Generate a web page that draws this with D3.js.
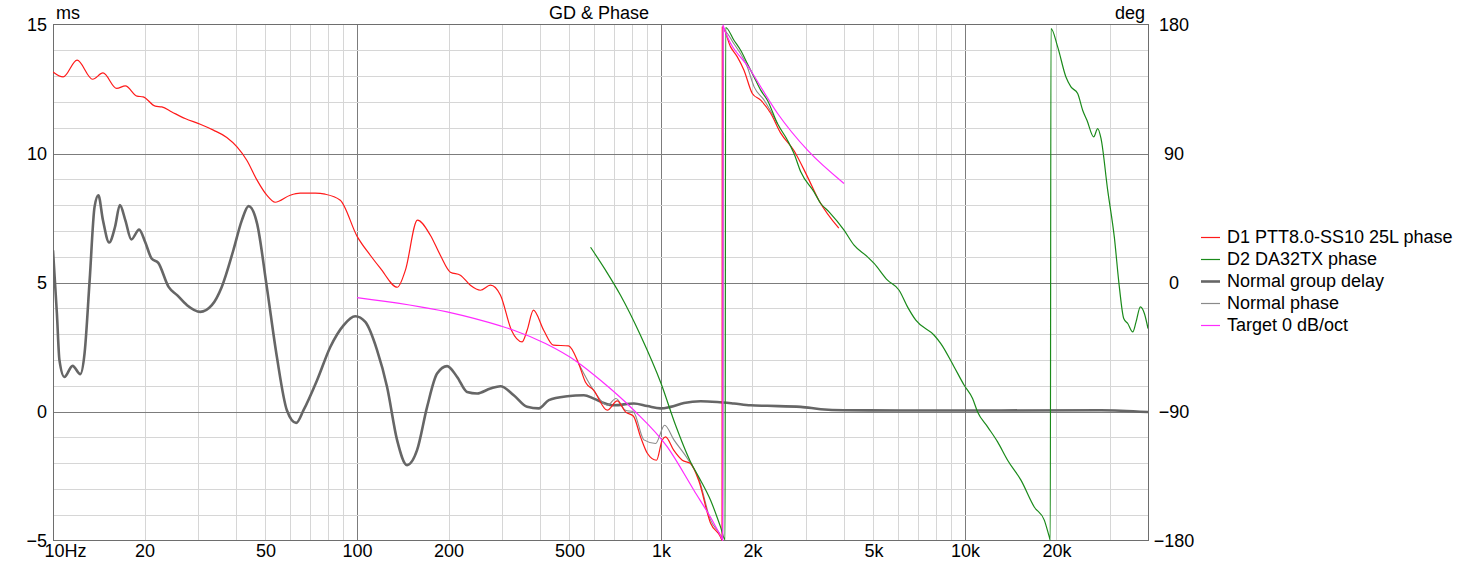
<!DOCTYPE html>
<meta charset="utf-8">
<style>
body { margin: 0; background: #fff; }
text { font-family: "Liberation Sans", Arial, sans-serif; font-size: 18px; fill: #000; }
.grid-minor { stroke: #d6d6d6; stroke-width: 1; }
.grid-major { stroke: #7c7c7c; stroke-width: 1; }
.trace { fill: none; stroke-linejoin: round; }
</style>
<svg width="1465" height="561"></svg>
<script src="https://d3js.org/d3.v7.min.js"></script>
<script>

// ---- data: [frequency Hz, value] ----
var d1Phase = [
  [10,146.9],[10.8,143.4],[12.0,155.1],[13.5,141.8],[14.6,146.2],[16.2,135.4],[17.3,137.2],
  [18.9,130.0],[19.8,129.5],[21.7,123.0],[22.8,122.5],[24.6,119.0],[27.2,114.4],[30.5,110.4],
  [33.7,106.3],[37.3,101.2],[40.3,94.6],[43.4,85.3],[46.9,71.4],[50.5,60.9],[53.8,56.0],
  [60.3,60.9],[65,62.3],[72.9,62.3],[78.6,61.6],[88.1,57.4],[100.2,32.0],[110.6,19.0],
  [119.3,10.0],[135.8,-3.3],[144.3,8.6],[158,43.5],[174.3,33.0],[188,19.0],[202.9,7.2],
  [218.8,5.1],[236,-1.9],[254.7,-5.4],[274.8,-1.9],[296.5,-8.9],[322.2,-33.3],[349.3,-41.4],
  [362.8,-33.3],[380.5,-19.3],[411.3,-33.3],[442.6,-43.7],[496.5,-44.2],[535.4,-56.3],
  [564.5,-69.6],[600,-75.1],[665.6,-89.1],[718,-82.6],[764.2,-90.3],[812,-93.3],[856.5,-107.7],
  [901.6,-119.1],[966.6,-124.0],[1009,-110.0],[1035,-107.7],[1101,-117.0],[1175,-124.0],
  [1251,-126.3],[1330,-138.0],[1456,-167.9],[1570,-177.5],[1588,-179.8],
  [1591,178.3],[1694,164.4],[1783,157.4],[1875,148.1],[1997,131.9],[2128,127.2],[2295,118.1],
  [2477,104.2],[2734,92.3],[3034,73.7],[3305,57.4],[3846,37.9]
];

var d2Phase = [
  [586.6,24.6],[657,8.6],[736,-8.9],[856,-36.8],[1000,-70.3],[1117,-99.6],[1251,-125.2],
  [1349,-137.9],[1456,-151.9],[1570,-170.5],[1625,-179.5],
  [1632,177.9],[1738,169],[1828,162],[1923,152.8],[2023,143.4],[2128,134.2],[2239,127.2],
  [2416,110.9],[2606,99.3],[2739,90.0],[2882,77.2],[3187,63.2],[3354,55.1],[3571,49.3],
  [4001,36.5],[4316,26.0],[4779,17.9],[5024,13.3],[5561,1.6],[6072,-5.4],[6471,-17.0],
  [6891,-26.3],[7918,-36.8],[8328,-42.6],[9214,-58.9],[9940,-71.7],[10593,-81.0],
  [11003,-90.3],[11869,-100.7],[12803,-111.2],[13812,-124],[15280,-137.9],[16900,-156.6],
  [18235,-165.8],[18938,-177.5],[19080,-179.8],
  [19184,177.2],[20179,164.4],[21484,143.4],[22316,136.5],[23476,131.9],[24384,120.2],
  [25193,113.2],[26506,101.6],[27324,107.4],[28019,100.5],[29472,64.4],[30988,31.8],
  [32193,-3.1],[33285,-25.1],[34310,-28.6],[35636,-34.5],[36540,-27.5],[37754,-17.0],
  [38921,-21.6],[40000,-32.1]
];

var groupDelay = [
  [10,6.25],[10.3,3.8],[10.5,1.99],[10.9,1.34],[11.6,1.77],[12.3,1.45],[12.7,2.25],[13.2,5.09],
  [13.7,7.93],[14.1,8.38],[14.6,7.41],[15.3,6.55],[16.0,7.16],[16.6,8.0],[17.3,7.41],[18.1,6.67],
  [19.2,7.05],[20.1,6.57],[21.1,5.93],[22.2,5.76],[24.0,4.83],[25.6,4.51],[27.6,4.12],[30.5,3.86],
  [33.3,4.12],[35.9,4.83],[39.2,6.25],[41.8,7.41],[44.0,7.96],[46.9,7.29],[50.5,4.83],[54.5,2.12],
  [58.8,0.05],[63.1,-0.44],[66.7,0.05],[73.9,1.21],[81.7,2.5],[90.3,3.34],[98.7,3.69],[106.5,3.47],
  [116.4,2.38],[125.6,0.95],[135.5,-1.11],[146.1,-2.08],[157.6,-1.5],[170.1,0.18],[183.4,1.47],
  [197.9,1.76],[213.5,1.34],[230.2,0.76],[248.4,0.7],[274.8,0.89],[296.4,0.98],[327.8,0.63],
  [362.8,0.18],[396.3,0.12],[427.6,0.44],[491.5,0.59],[557.4,0.63],[601.2,0.5],[648.6,0.33],
  [699.8,0.24],[814.3,0.31],[901.6,0.21],[997,0.12],[1075,0.18],[1190,0.33],[1350,0.4],
  [1532,0.37],[1738,0.31],[1972,0.24],[2239,0.22],[2882,0.18],[3354,0.09],[3990,0.05],
  [6150,0.04],[13120,0.04],[28019,0.05],[40000,-0.02]
];

var normalPhase = [
  [535.4,-56.3],[600,-75.1],[666,-85.6],[711,-80.9],[764,-89.1],[812,-90.3],[878.6,-109.8],
  [959.8,-112.3],[1028,-99.6],[1103,-109.8],[1221,-122.8],[1330,-136.6],[1456,-165.8],
  [1570,-176.3],[1598,-179.8],
  [1605,176.0],[1735,166.7],[1923,150.4],[2025,136.5],[2185,127.2],[2416,110.9]
];

var targetPhase = [
  [100,-10.5],[197.9,-20.5],[296.4,-30.3],[327.8,-33.3],[416.9,-42.6],[530.2,-55.4],
  [632.5,-68.2],[814.3,-89.1],[1049,-114.7],[1283,-144.9],[1494,-168.1],[1591,-179.3],
  [1596,-179.9],[1600,179.5],[1607,178.3],[1972,148.1],[2416,118.1],[3034,92.3],[4000,69.1]
];

var xTicks = [10, 20, 50, 100, 200, 500, 1000, 2000, 5000, 10000, 20000];
var xTickLabels = ["10Hz", "20", "50", "100", "200", "500", "1k", "2k", "5k", "10k", "20k"];
var msTicks = [-5, 0, 5, 10, 15];
var degTicks = [-180, -90, 0, 90, 180];

var legendNames = ["D1 PTT8.0-SS10 25L phase", "D2 DA32TX phase", "Normal group delay", "Normal phase", "Target 0 dB/oct"];
var legendColors = ["#ff1a1a", "#1a8a1a", "#666666", "#8a8a8a", "#ff2bff"];

// ---- layout ----
var svg = d3.select("svg"),
    plotL = 53, plotR = 1148, plotT = 24.5, plotB = 540.5;

var x = d3.scaleLog().domain([10, 40000]).range([plotL, plotR]);
var yMs = d3.scaleLinear().domain([-5, 15]).range([plotB, plotT]);
var yDeg = d3.scaleLinear().domain([-180, 180]).range([plotB, plotT]);

// grid
var grid = svg.append("g");
var minorF = [];
for (var dec = 10; dec <= 10000; dec *= 10) {
  for (var m = 1; m <= 9; m++) {
    var f = dec * m;
    if (f > 10 && f < 40000) minorF.push(f);
  }
}
grid.selectAll(".vline")
  .data(minorF)
  .enter().append("line")
  .attr("class", function(d) { return [100, 1000, 10000].indexOf(d) >= 0 ? "grid-major" : "grid-minor"; })
  .attr("x1", function(d) { return Math.round(x(d)) + 0.5; })
  .attr("x2", function(d) { return Math.round(x(d)) + 0.5; })
  .attr("y1", plotT).attr("y2", plotB);

grid.selectAll(".hline")
  .data(d3.range(-4, 15))
  .enter().append("line")
  .attr("class", function(d) { return d % 5 === 0 ? "grid-major" : "grid-minor"; })
  .attr("x1", plotL).attr("x2", plotR)
  .attr("y1", function(d) { return Math.round(yMs(d)) + 0.5; })
  .attr("y2", function(d) { return Math.round(yMs(d)) + 0.5; });

// frame
svg.append("rect")
  .attr("x", plotL + 0.5).attr("y", plotT)
  .attr("width", plotR - plotL).attr("height", plotB - plotT)
  .attr("fill", "none").attr("stroke", "#6e6e6e");

// clip
svg.append("clipPath").attr("id", "plot")
  .append("rect").attr("x", plotL).attr("y", plotT - 2).attr("width", plotR - plotL).attr("height", plotB - plotT + 3);

var plot = svg.append("g").attr("clip-path", "url(#plot)");

function drawLine(data, yScale, color, width) {
  var line = d3.line()
    .x(function(d) { return x(d[0]); })
    .y(function(d) { return yScale(d[1]); })
    .curve(d3.curveMonotoneX);
  plot.append("path")
    .datum(data)
    .attr("class", "trace")
    .attr("d", line)
    .attr("stroke", color)
    .attr("stroke-width", width);
}

drawLine(groupDelay, yMs, legendColors[2], 2.6);
drawLine(normalPhase, yDeg, legendColors[3], 1.1);
drawLine(d1Phase, yDeg, legendColors[0], 1.2);
drawLine(d2Phase, yDeg, legendColors[1], 1.2);
drawLine(targetPhase, yDeg, legendColors[4], 1.2);

// axes
var xAxis = svg.append("g")
  .attr("transform", "translate(0," + plotB + ")")
  .call(d3.axisBottom(x).tickValues(xTicks).tickSize(0)
    .tickFormat(function(d, i) { return xTickLabels[i]; }));
xAxis.select(".domain").remove();
xAxis.selectAll("text").attr("y", 4).attr("dy", "0.71em")
  .attr("fill", "#000")
  .style("font-size", "18px");
xAxis.selectAll(".tick").filter(function(d) { return d === 10; })
  .select("text").attr("text-anchor", "start").attr("x", -9);

var msAxis = svg.append("g")
  .attr("transform", "translate(" + (plotL - 5) + ",0)")
  .call(d3.axisLeft(yMs).tickValues(msTicks).tickSize(0).tickPadding(1));
msAxis.select(".domain").remove();
msAxis.selectAll("text").attr("fill", "#000").style("font-size", "18px");

var degAxis = svg.append("g")
  .attr("transform", "translate(1174,0)")
  .call(d3.axisRight(yDeg).tickValues(degTicks).tickSize(0).tickPadding(0));
degAxis.select(".domain").remove();
degAxis.selectAll("text").attr("text-anchor", "middle").attr("x", 0)
  .attr("fill", "#000").style("font-size", "18px");

// titles
svg.append("text").attr("x", 56).attr("y", 19).text("ms");
svg.append("text").attr("x", 1145).attr("y", 19).attr("text-anchor", "end").text("deg");
svg.append("text").attr("x", 599).attr("y", 19).attr("text-anchor", "middle").text("GD & Phase");

// legend
var legend = svg.append("g").attr("transform", "translate(1201,237)");
var rows = legend.selectAll("g")
  .data(legendNames)
  .enter().append("g")
  .attr("transform", function(d, i) { return "translate(0," + (i * 22) + ")"; });
rows.append("line")
  .attr("x1", 0).attr("x2", 19).attr("y1", 0.5).attr("y2", 0.5)
  .attr("stroke", function(d, i) { return legendColors[i]; })
  .attr("stroke-width", function(d, i) { return i === 2 ? 2.6 : 1.2; });
rows.append("text")
  .attr("x", 26).attr("y", 0).attr("dy", "0.35em")
  .text(function(d) { return d; });
</script>
